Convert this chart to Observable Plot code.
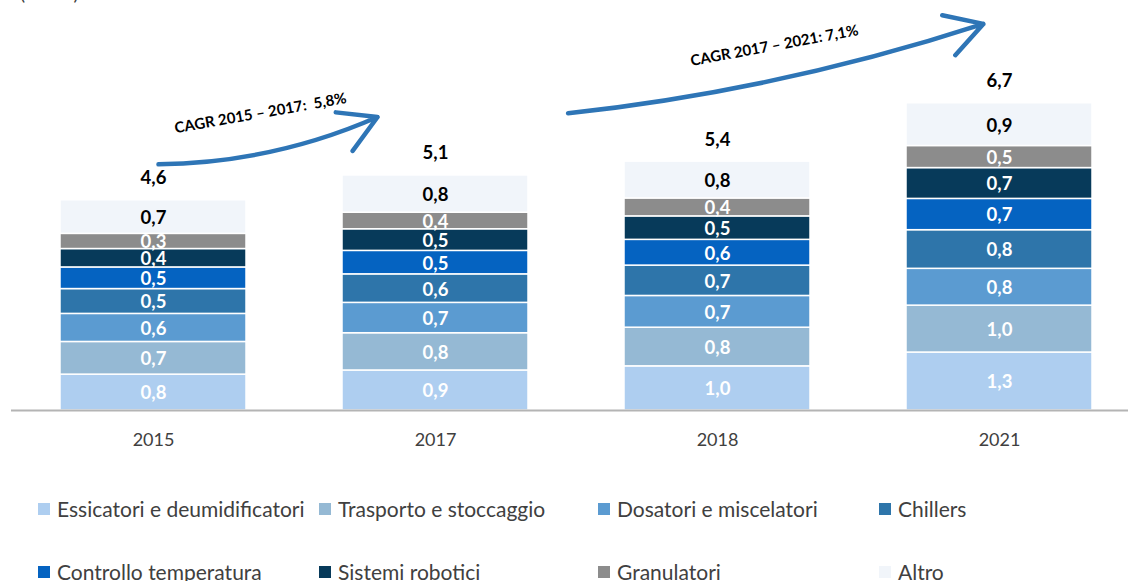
<!DOCTYPE html>
<html>
<head>
<meta charset="utf-8">
<script src="https://cdn.jsdelivr.net/npm/d3@7"></script>
<script src="https://cdn.jsdelivr.net/npm/@observablehq/plot@0.6"></script>
<style>
  html, body { margin: 0; padding: 0; background: #fff; overflow: hidden; }
  body { width: 1128px; height: 581px; position: relative; font-family: Lato, "Noto Sans", sans-serif; }
  #unit { position: absolute; top: -19px; left: 20px; font-size: 19px; color: #404040; }
  #legend { display: grid; grid-template-columns: 281px 279px 281px 1fr; row-gap: 40px; padding-left: 38px; padding-top: 37px; }
  .item { display: flex; align-items: center; height: 23px; font-size: 21px; color: #404040; white-space: nowrap; }
  .sw { width: 12px; height: 12px; margin-right: 7px; flex: none; }
</style>
</head>
<body>
<div id="unit">(Mld €)</div>
<div id="chart"></div>
<div id="legend"></div>
<script>
const years = ["2015", "2017", "2018", "2021"];
const categories = [
  "Essicatori e deumidificatori",
  "Trasporto e stoccaggio",
  "Dosatori e miscelatori",
  "Chillers",
  "Controllo temperatura",
  "Sistemi robotici",
  "Granulatori",
  "Altro"
];
const colors = ["#aecef0", "#95b9d4", "#5b9bd1", "#2e75aa", "#0563c1", "#073a5a", "#8c8c8c", "#f1f5fa"];

const essicatori  = [0.78, 0.87, 0.96, 1.26];
const trasporto   = [0.71, 0.81, 0.84, 1.02];
const dosatori    = [0.61, 0.66, 0.69, 0.80];
const chillers    = [0.54, 0.62, 0.66, 0.84];
const controllo   = [0.47, 0.51, 0.56, 0.68];
const robotici    = [0.40, 0.47, 0.51, 0.67];
const granulatori = [0.33, 0.36, 0.39, 0.48];
const altro       = [0.73, 0.81, 0.80, 0.93];

const series = [essicatori, trasporto, dosatori, chillers, controllo, robotici, granulatori, altro];
const data = [];
categories.forEach((cat, ci) => {
  years.forEach((year, yi) => data.push({year, cat, value: series[ci][yi]}));
});
const totals = years.map((year, yi) => ({year, total: d3.sum(series, s => s[yi])}));
const fmt = v => d3.format(".1f")(v).replace(".", ",");

const blue = "#2e75b6";

const chart = Plot.plot({
  width: 1128,
  height: 460,
  marginTop: 88,
  marginBottom: 50,
  marginLeft: 11,
  marginRight: 0,
  style: {fontFamily: "Lato, 'Noto Sans', sans-serif", fontSize: "18px", color: "#404040", background: "#fff", overflow: "visible"},
  x: {domain: years, range: [11, 1141], paddingInner: 0.34, paddingOuter: 0.17, axis: null},
  y: {domain: [0, 7], axis: null},
  color: {domain: categories, range: colors},
  marks: [
    Plot.rectY(data, Plot.stackY({x: "year", y: "value", z: "cat", fill: "cat", stroke: "white", strokeWidth: 1.5, order: null})),
    Plot.text(data, Plot.stackY({x: "year", y: "value", z: "cat", order: null, text: d => fmt(d.value),
      fill: d => d.cat === "Altro" ? "black" : "white", fontWeight: "bold", fontSize: 18.5, dy: 1})),
    Plot.text(totals, {x: "year", y: "total", text: d => fmt(d.total), fill: "black", fontWeight: "bold", fontSize: 18.5, dy: -22}),
    Plot.ruleY([0], {stroke: "#b4b4b4", strokeWidth: 2}),
    Plot.axisX({tickSize: 0, tickPadding: 23, fontSize: 18, label: null, fill: "#404040"}),
    Plot.arrow([0], {x1: ["2015"], y1: [5.35], x2: ["2017"], y2: [7.02], bend: -15, insetStart: 5, insetEnd: 65,
      stroke: blue, strokeWidth: 4.5, headLength: 14}),
    Plot.arrow([0], {x1: ["2017"], y1: [6.24], x2: ["2021"], y2: [8.52], bend: -8, insetStart: 133, insetEnd: 17,
      stroke: blue, strokeWidth: 4.5, headLength: 14}),
    Plot.text([0], {x: ["2015"], y: [6.46], dx: 107, text: ["CAGR 2015 – 2017:  5,8%"], rotate: -10, fontWeight: "bold", fontSize: 15, fill: "black"}),
    Plot.text([0], {x: ["2018"], y: [7.93], dx: 57, text: ["CAGR 2017 – 2021: 7,1%"], rotate: -10.5, fontWeight: "bold", fontSize: 15, fill: "black"})
  ]
});
document.getElementById("chart").appendChild(chart);

const legend = document.getElementById("legend");
categories.forEach((cat, i) => {
  const item = document.createElement("div");
  item.className = "item";
  const sw = document.createElement("span");
  sw.className = "sw";
  sw.style.background = colors[i];
  item.appendChild(sw);
  item.appendChild(document.createTextNode(cat));
  legend.appendChild(item);
});
</script>
</body>
</html>
